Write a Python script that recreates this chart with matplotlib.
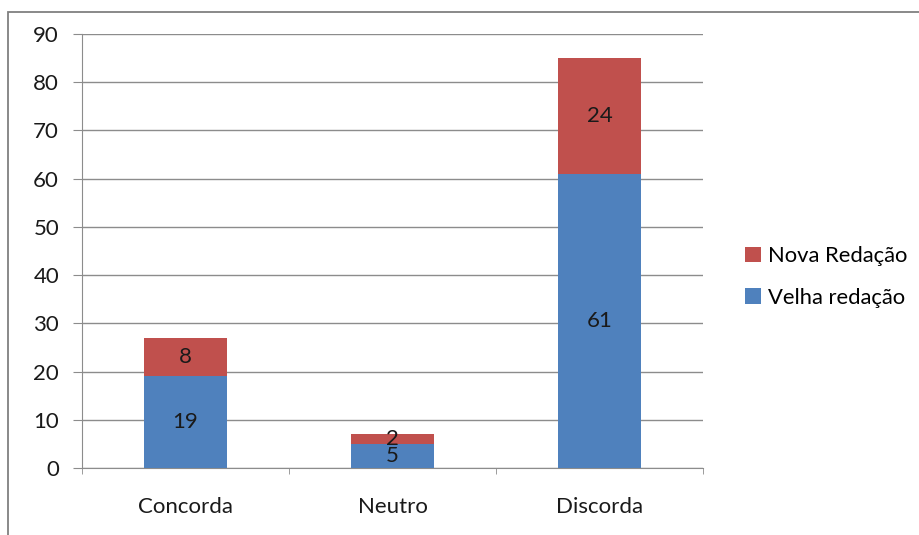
import matplotlib
matplotlib.use("Agg")
import matplotlib.pyplot as plt
from matplotlib.patches import Rectangle

categories = ["Concorda", "Neutro", "Discorda"]
velha = [19, 5, 61]
nova = [8, 2, 24]
yticks = [0, 10, 20, 30, 40, 50, 60, 70, 80, 90]

blue = "#4F81BD"
red = "#C0504D"
grid_c = "#8C8C8C"
txt_c = "#1A1A1A"
fs = 16

plt.rcParams["font.family"] = ["Lato", "DejaVu Sans"]

W, H = 920, 535
fig = plt.figure(figsize=(W / 100, H / 100), dpi=100)
ax = fig.add_axes([82 / W, 1 - 468 / H, (703 - 82) / W, (468 - 34) / H])

x = list(range(len(categories)))
bw = 0.405
ax.bar(x, velha, bw, color=blue, label="Velha redação", zorder=3)
ax.bar(x, nova, bw, bottom=velha, color=red, label="Nova Redação", zorder=3)

for xi, v, n in zip(x, velha, nova):
    ax.text(xi, v / 2, str(v), ha="center", va="center", fontsize=fs, color=txt_c, zorder=4)
    ax.text(xi, v + n / 2, str(n), ha="center", va="center", fontsize=fs, color=txt_c, zorder=4)

ax.set_xlim(-0.5, 2.5)
ax.set_ylim(0, 90)
ax.set_yticks(yticks)
ax.set_yticklabels([str(t) for t in yticks], fontsize=fs, color=txt_c)
ax.yaxis.grid(True, color=grid_c, linewidth=1, zorder=0)
ax.set_xticks(x)
ax.set_xticklabels(categories, fontsize=fs, color=txt_c)
ax.set_xticks([-0.5, 0.5, 1.5, 2.5], minor=True)
ax.tick_params(axis="x", which="major", length=0, pad=21)
ax.tick_params(axis="x", which="minor", length=4.5, color=grid_c, direction="out")
ax.tick_params(axis="y", length=6.5, color=grid_c, direction="out", pad=10)
for s in ["top", "right"]:
    ax.spines[s].set_visible(False)
ax.spines["left"].set_color(grid_c)
ax.spines["bottom"].set_color(grid_c)

handles, labels = ax.get_legend_handles_labels()
leg = fig.legend(handles[::-1], labels[::-1], loc="center left",
                 bbox_to_anchor=(725 / W, 1 - 277 / H), frameon=False,
                 fontsize=15.8, handlelength=0.72, handleheight=0.72,
                 handletextpad=0.35, labelspacing=1.0)

fig.patches.append(Rectangle((8 / W, -0.1), 1.2, 1 - 12 / H + 0.1,
                             transform=fig.transFigure, fill=False,
                             edgecolor="#808080", linewidth=1.3))

fig.savefig("out.png", dpi=100)
